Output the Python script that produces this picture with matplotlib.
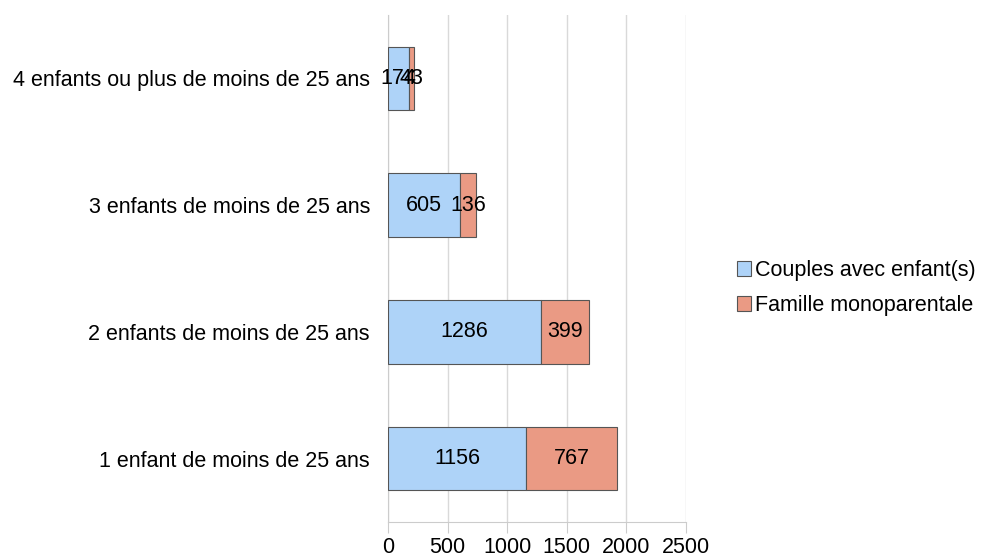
import numpy as np
import matplotlib.pyplot as plt

plt.rcParams['font.family'] = ['Liberation Sans', 'DejaVu Sans']

categories = ["1 enfant de moins de 25 ans", "2 enfants de moins de 25 ans",
              "3 enfants de moins de 25 ans", "4 enfants ou plus de moins de 25 ans"]
couples = [1156, 1286, 605, 174]
mono = [767, 399, 136, 43]
xticks = [0, 500, 1000, 1500, 2000, 2500]

fs = 15.5

fig = plt.figure(figsize=(9.84, 5.58), dpi=100)
ax = fig.add_axes([388 / 984, 36 / 558, 298 / 984, 507 / 558])

y = np.arange(len(categories))
b1 = ax.barh(y, couples, height=0.5, color="#aed3f8", edgecolor="#555555", linewidth=0.8,
             label="Couples avec enfant(s)", zorder=3)
b2 = ax.barh(y, mono, left=couples, height=0.5, color="#ea9a84", edgecolor="#555555",
             linewidth=0.8, label="Famille monoparentale", zorder=3)

# valeurs au centre de chaque segment
for i in range(len(categories)):
    ax.text(couples[i] / 2, y[i], str(couples[i]), ha="center", va="center", fontsize=fs, zorder=4)
    ax.text(couples[i] + mono[i] / 2, y[i], str(mono[i]), ha="center", va="center", fontsize=fs, zorder=4)

ax.set_xlim(0, 2500)
ax.set_ylim(-0.5, 3.5)
ax.set_xticks(xticks)
ax.set_xticklabels([str(t) for t in xticks], fontsize=fs)
ax.set_yticks(y)
ax.set_yticklabels(categories, fontsize=fs)
ax.grid(axis="x", color="#d9d9d9", linewidth=1, zorder=0)
for s in ["top", "right"]:
    ax.spines[s].set_visible(False)
ax.spines["left"].set_color("#cccccc")
ax.spines["bottom"].set_color("#cccccc")
ax.tick_params(axis="x", length=8, color="#cccccc", pad=3)
ax.tick_params(axis="y", length=0, pad=13)

fig.legend(handles=[b1, b2], loc="center left", bbox_to_anchor=(737 / 984, 1 - 288 / 558),
           frameon=False, fontsize=fs, handlelength=0.65, handleheight=0.65,
           handletextpad=0.2, labelspacing=0.65, borderpad=0, borderaxespad=0)

fig.savefig("out.png", dpi=100)
